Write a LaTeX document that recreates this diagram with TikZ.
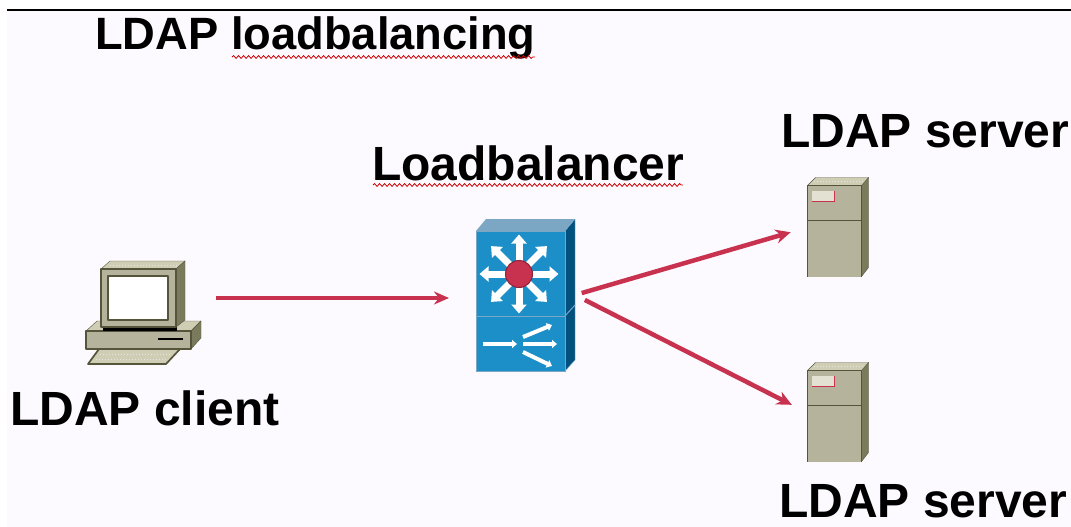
\documentclass[tikz,border=0pt]{standalone}
\usepackage{fontspec}
\setmainfont{Liberation Sans}
\usetikzlibrary{arrows.meta,decorations.pathmorphing}
\definecolor{pagetint}{HTML}{FCFAFF}
\definecolor{linkred}{HTML}{C8324F}
\definecolor{bluefront}{HTML}{1C8FC9}
\definecolor{blueside}{HTML}{02507E}
\definecolor{bluetop}{HTML}{7BA6C4}
\definecolor{boxbody}{HTML}{B5B39B}
\definecolor{boxtop}{HTML}{CFCDB4}
\definecolor{boxside}{HTML}{7A7A5C}
\definecolor{boxline}{HTML}{55553C}
\tikzset{
  label/.style={font=\bfseries\fontsize{48}{48}\selectfont, inner sep=0pt, anchor=base west},
  titlelabel/.style={label, font=\bfseries\fontsize{45.3}{46}\selectfont},
  iconbox/.style={inner sep=0pt, outer sep=0pt},
  link/.style={linkred, line width=4.5pt, -{Stealth[length=15pt,width=14pt]}},
  clientlink/.style={linkred, line width=3.5pt, -{Stealth[length=15pt,width=13pt]}},
  wavy/.style={red!80!black, line width=0.8pt, decorate, decoration={snake, amplitude=1.4pt, segment length=5pt}},
  hull/.style={draw=boxline, line width=1.7pt, line join=round},
  grain/.style={white!85!boxline, line width=1pt, dotted},
  whitearrow/.style={white, line width=7pt, -{Triangle[length=9pt,width=15pt]}},
  thinarrow/.style={white, line width=4pt, -{Triangle[length=5pt,width=8pt]}},
  servericon/.pic={
    \fill[boxside, draw=boxline] (24,-42) -- (31,-50) -- (31,40) -- (24,49) -- cycle;
    \fill[boxtop, draw=boxline] (-30,-42) -- (-22,-50) -- (31,-50) -- (24,-42) -- cycle;
    \draw[grain] (-24,-46) -- (26,-46);
    \fill[boxbody] (-30,-42) rectangle (24,49);
    \draw[hull] (-30,49) -- (-30,-42) -- (24,-42) -- (24,49);
    \draw[hull] (-30,-7) -- (24,-7);
    \fill[boxtop!60!white] (-26,-37) rectangle (-3,-26);
    \draw[linkred, line width=1.3pt] (-26,-26) -- (-3,-26) -- (-3,-37);
  }
}
\begin{document}
\begin{tikzpicture}[x=1pt,y=-1pt]
\useasboundingbox (0,0) rectangle (1071,527);
\fill[pagetint] (7,10) rectangle (1071,527);
\draw[black, line width=1.3pt] (7,10) -- (1071,10);
% texts
\node[titlelabel] (title) at (95,50) {LDAP loadbalancing};
\node[label] (lbname) at (372,180) {Loadbalancer};
\node[label] (clientname) at (10,425) {LDAP client};
\node[label] (servernameup) at (781,147) {LDAP server};
\node[label] (servernamedown) at (779,517) {LDAP server};
\draw[wavy] (232,57) -- (535,57);
\draw[wavy] (373,185) -- (683,185);
% client
\node[iconbox, minimum width=116pt, minimum height=104pt] (client) at (143.5,313) {};
\coordinate (clientout) at (216,298);
\fill[boxtop, draw=boxline] (86,331) -- (97,321) -- (201,321) -- (191,331) -- cycle;
\fill[boxside, draw=boxline] (191,331) -- (201,321) -- (201,338) -- (191,349) -- cycle;
\fill[boxbody, hull] (86,331) rectangle (191,349);
\draw[black, line width=1.4pt] (158,339) -- (183,339);
\fill[boxtop, hull] (99,349) -- (180,349) -- (166,364) -- (88,364) -- cycle;
\draw[grain] (100,354) -- (172,354);
\draw[grain] (96,359) -- (168,359);
\draw[black, line width=3.5pt] (103,329) -- (177,329);
\fill[boxtop, draw=boxline] (101,269) -- (110,261) -- (185,261) -- (176,269) -- cycle;
\draw[grain] (110,265) -- (178,265);
\fill[boxside, draw=boxline] (176,269) -- (185,261) -- (185,320) -- (176,327) -- cycle;
\fill[boxbody, hull] (101,269) rectangle (176,327);
\fill[white, hull] (108,276) rectangle (168,320);
% loadbalancer
\node[iconbox, minimum width=99pt, minimum height=152pt] (lb) at (525.5,295) {};
\fill[blueside, draw=bluetop] (565,231) -- (575,219) -- (575,360) -- (565,371) -- cycle;
\fill[bluetop] (476,231) -- (486,219) -- (575,219) -- (565,231) -- cycle;
\fill[bluefront, draw=bluetop, line width=1pt] (476,231) rectangle (565,316);
\fill[bluefront, draw=bluetop, line width=1pt] (476,316) rectangle (565,371);
\draw[bluetop, line width=1pt] (565,316) -- (575,305);
\coordinate (hub) at (519,274);
\foreach \ang in {0,45,...,315}
  \draw[whitearrow] (hub) -- ++(\ang:39.5);
\fill[linkred, draw=linkred!70!black, line width=1pt] (hub) circle (13.5pt);
\draw[thinarrow] (483,344) -- (517,344);
\draw[thinarrow] (523,344) -- (557,344);
\draw[thinarrow] (523,337) -- (552,325);
\draw[thinarrow] (523,352) -- (552,366);
% servers
\node[iconbox, minimum width=61pt, minimum height=99pt] (serverup) at (837.5,227.5) {};
\pic at (serverup) {servericon};
\node[iconbox, minimum width=61pt, minimum height=99pt] (serverdown) at (837.5,412.5) {};
\pic at (serverdown) {servericon};
% links
\draw[clientlink, shorten >=27pt] (clientout) -- (clientout -| lb.west);
\draw[link, shorten <=7pt, shorten >=17pt] (lb.east) -- (serverup.west);
\draw[link, shorten <=11pt, shorten >=17pt] (lb.east) -- (serverdown.west);
\end{tikzpicture}
\end{document}
